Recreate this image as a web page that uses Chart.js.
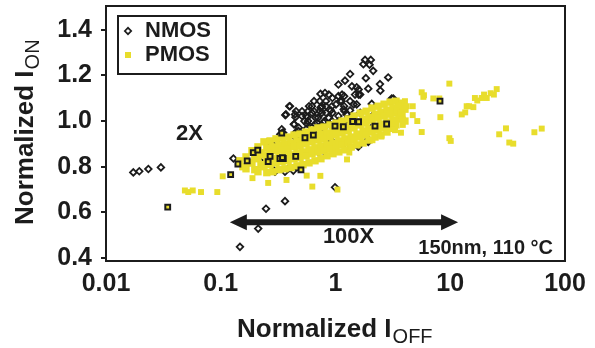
<!DOCTYPE html>
<html>
<head>
<meta charset="utf-8">
<script src="https://cdn.jsdelivr.net/npm/chart.js@4.4.0/dist/chart.umd.min.js"></script>
<style>
body { margin: 0; background: #fff; }
</style>
</head>
<body>
<canvas id="myChart" width="595" height="348"></canvas>
<script>
// axis ticks
const xTicks = [0.01, 0.1, 1, 10, 100];
const xTickLabels = ["0.01", "0.1", "1", "10", "100"];
const yTicks = [0.4, 0.6, 0.8, 1.0, 1.2, 1.4];
const yTickLabels = ["0.4", "0.6", "0.8", "1.0", "1.2", "1.4"];

// [normalized Ioff, normalized Ion]
const nmos = [
  [0.0173, 0.775], [0.0195, 0.780], [0.0234, 0.790], [0.0301, 0.797],
  [0.147, 0.449], [0.212, 0.529], [0.248, 0.616], [0.363, 0.649], [0.99, 0.710],
  [1.81, 1.268], [2.03, 1.268], [1.75, 1.249], [1.98, 1.247], [1.34, 1.206], [2.88, 1.191],
  [1.84, 1.188], [2.13, 1.220], [2.44, 1.162], [2.46, 1.133], [1.93, 1.142], [1.53, 1.148],
  [1.21, 1.177], [1.06, 1.160], [1.48, 1.116], [1.64, 1.116], [2.07, 1.075], [3.09, 1.099],
  [0.94, 1.101], [0.875, 1.116], [0.74, 1.119], [1.01, 1.073], [1.13, 1.087], [1.53, 1.073],
  [0.76, 1.065], [0.826, 1.036], [0.91, 1.047], [2.13, 1.026], [1.64, 1.036], [1.25, 1.029],
  [1.34, 1.047], [0.80, 1.000],
  [0.81, 1.123], [0.624, 1.065], [0.74, 1.058], [0.401, 1.065], [0.365, 1.026], [0.444, 1.029],
  [0.555, 1.022], [0.437, 0.986], [0.704, 1.014], [0.663, 0.986], [0.565, 0.988], [0.340, 0.964],
  [0.253, 0.906], [0.345, 0.949], [0.370, 1.029], [0.396, 1.065], [0.434, 0.986], [0.448, 1.017],
  [0.478, 0.971], [0.588, 1.065], [0.570, 1.017], [0.624, 1.036], [0.624, 0.971], [0.755, 1.061],
  [0.76, 1.036], [0.79, 0.993], [0.873, 1.014], [0.94, 1.036], [1.10, 1.087], [1.03, 0.971],
  [1.14, 1.116], [1.20, 1.043], [1.39, 1.152], [1.44, 1.073], [1.59, 1.116], [0.540, 0.942],
  [0.40, 0.899], [0.30, 0.913], [0.45, 0.927], [0.873, 0.964], [0.535, 1.000], [0.69, 0.993],
  [0.71, 0.957], [0.58, 0.935], [0.49, 0.920], [0.378, 0.891], [1.26, 1.007], [1.14, 0.993],
  [0.895, 0.986], [0.76, 0.971], [0.67, 1.014], [0.511, 1.043], [0.447, 0.949], [1.59, 1.138],
  [1.18, 1.051],
  [0.474, 0.957], [0.56, 0.967], [0.259, 0.906], [0.363, 0.778], [0.429, 0.783], [0.474, 0.797],
  [0.39, 0.793], [0.129, 0.836], [0.235, 0.840], [0.297, 0.778],
  [1.58, 0.888], [1.93, 0.909], [1.25, 0.894], [0.927, 0.913], [0.76, 0.848], [2.07, 0.971],
  [0.33, 0.942], [0.35, 0.949], [1.93, 0.920], [0.291, 0.783], [3.19, 1.099],
  [0.453, 1.043], [0.511, 1.022], [0.576, 1.000], [0.65, 1.043], [0.73, 1.087], [0.826, 1.065],
  [0.93, 1.000], [1.06, 1.022], [1.19, 1.065], [1.34, 1.087], [0.65, 1.087], [0.73, 1.043],
  [0.93, 1.065], [1.06, 1.109], [1.19, 1.109], [0.576, 1.043], [0.826, 1.087], [1.06, 1.000]
];

// PMOS: dense core of the distribution
const pmosCore = [
  [0.147, 0.826], [0.156, 0.800],
  [0.166, 0.843], [0.176, 0.817], [0.166, 0.791],
  [0.187, 0.870], [0.198, 0.843], [0.187, 0.817], [0.198, 0.787],
  [0.211, 0.887], [0.224, 0.861], [0.211, 0.835], [0.224, 0.809], [0.211, 0.778],
  [0.238, 0.909], [0.252, 0.883], [0.238, 0.852], [0.252, 0.826], [0.238, 0.800], [0.252, 0.774],
  [0.269, 0.913], [0.285, 0.887], [0.269, 0.861], [0.285, 0.835], [0.269, 0.809], [0.285, 0.778],
  [0.303, 0.922], [0.322, 0.896], [0.303, 0.870], [0.322, 0.843], [0.303, 0.817], [0.322, 0.787],
  [0.342, 0.926], [0.363, 0.900], [0.342, 0.874], [0.363, 0.848], [0.342, 0.822], [0.363, 0.791],
  [0.386, 0.930], [0.410, 0.904], [0.386, 0.878], [0.410, 0.852], [0.386, 0.826], [0.410, 0.796],
  [0.435, 0.939], [0.462, 0.913], [0.435, 0.887], [0.462, 0.861], [0.435, 0.835], [0.462, 0.804],
  [0.491, 0.943], [0.521, 0.917], [0.491, 0.891], [0.521, 0.865], [0.491, 0.839], [0.521, 0.809],
  [0.554, 0.952], [0.588, 0.926], [0.554, 0.900], [0.588, 0.874], [0.554, 0.848], [0.588, 0.817],
  [0.624, 0.961], [0.663, 0.935], [0.624, 0.909], [0.663, 0.883], [0.624, 0.857], [0.663, 0.826],
  [0.704, 0.970], [0.747, 0.943], [0.704, 0.917], [0.747, 0.891], [0.704, 0.865], [0.747, 0.835],
  [0.794, 0.974], [0.843, 0.948], [0.794, 0.922], [0.843, 0.896], [0.794, 0.870], [0.843, 0.848],
  [0.896, 0.983], [0.951, 0.957], [0.896, 0.930], [0.951, 0.904], [0.896, 0.878], [0.951, 0.857],
  [1.01, 0.991], [1.07, 0.965], [1.01, 0.939], [1.07, 0.913], [1.01, 0.887], [1.07, 0.865],
  [1.14, 1.000], [1.21, 0.974], [1.14, 0.948], [1.21, 0.922], [1.14, 0.896], [1.21, 0.874],
  [1.29, 1.009], [1.37, 0.983], [1.29, 0.957], [1.37, 0.930], [1.29, 0.904], [1.37, 0.887],
  [1.45, 1.022], [1.54, 0.996], [1.45, 0.970], [1.54, 0.943], [1.45, 0.917], [1.54, 0.896],
  [1.64, 1.035], [1.74, 1.009], [1.64, 0.983], [1.74, 0.957], [1.64, 0.930], [1.74, 0.904],
  [1.85, 1.043], [1.96, 1.017], [1.85, 0.991], [1.96, 0.965], [1.85, 0.939], [1.96, 0.917],
  [2.08, 1.057], [2.21, 1.030], [2.08, 1.004], [2.21, 0.978], [2.08, 0.952], [2.21, 0.930],
  [2.35, 1.065], [2.49, 1.039], [2.35, 1.013], [2.49, 0.987], [2.35, 0.961], [2.49, 0.939],
  [2.65, 1.074], [2.81, 1.048], [2.65, 1.022], [2.81, 0.996], [2.65, 0.970], [2.81, 0.952],
  [2.99, 1.083], [3.17, 1.057], [2.99, 1.030], [3.17, 1.004], [2.99, 0.978],
  [3.37, 1.087], [3.58, 1.061], [3.37, 1.035], [3.58, 1.009], [3.37, 0.983],
  [3.80, 1.078], [4.03, 1.052], [3.80, 1.026], [4.03, 1.000]
];

// PMOS: scattered devices around the core
const pmos = [
  // left tail
  [0.0487, 0.696], [0.0521, 0.689], [0.0570, 0.696], [0.0673, 0.689], [0.0933, 0.689],
  [0.104, 0.758], [0.189, 0.750], [0.259, 0.729], [0.374, 0.742], [0.628, 0.713],
  [0.738, 0.760], [0.561, 0.761], [1.04, 0.700],
  // right edge of band
  [4.03, 1.087], [3.77, 1.080], [3.52, 1.070], [4.71, 1.065], [3.41, 1.047], [4.71, 1.026],
  [5.16, 1.000], [3.86, 1.007], [3.86, 0.983], [3.30, 0.960], [3.72, 0.949], [2.51, 0.932],
  [2.10, 0.916], [1.38, 0.884], [1.32, 0.862], [1.26, 0.832], [3.17, 0.965], [4.18, 1.065],
  [3.65, 1.036],
  // high leakage tail
  [9.82, 1.164], [5.64, 1.126], [5.90, 1.113], [5.83, 1.106], [7.12, 1.099], [8.03, 1.099],
  [8.20, 1.017], [5.64, 0.952], [9.82, 0.925], [10.1, 0.913], [12.6, 1.029], [13.5, 1.038],
  [13.9, 1.065], [14.6, 1.065], [15.9, 1.061], [16.4, 1.101], [17.2, 1.090], [18.8, 1.101],
  [19.7, 1.116], [20.8, 1.101], [22.5, 1.122], [24.0, 1.116], [25.4, 1.140], [26.7, 0.942],
  [30.6, 0.968], [32.7, 0.906], [35.4, 0.901], [54.1, 0.951], [62.7, 0.967]
];

// PMOS points printed with a dark outline
const pmosOutlined = [
  [0.0345, 0.623], [0.122, 0.765], [0.141, 0.812], [0.170, 0.826], [0.192, 0.862], [0.210, 0.873],
  [0.259, 0.822], [0.269, 0.845], [0.328, 0.836], [0.351, 0.836], [0.450, 0.845], [0.500, 0.786],
  [0.340, 0.947], [0.542, 0.927], [0.641, 0.938], [8.14, 1.087], [1.41, 0.998], [1.59, 0.997],
  [1.17, 0.975], [0.99, 0.978], [2.21, 0.978], [2.79, 0.987], [0.345, 0.840]
];

const INK = "#1c1c1c";
const YELLOW = "#e8dd2c";
const FONT = "'Liberation Sans', Arial, Helvetica, sans-serif";

function toXY(list) {
  return list.map(p => ({ x: p[0], y: p[1] }));
}

function diamond(ctx, x, y, r) {
  ctx.beginPath();
  ctx.moveTo(x - r, y);
  ctx.lineTo(x, y - r);
  ctx.lineTo(x + r, y);
  ctx.lineTo(x, y + r);
  ctx.closePath();
}

function drawArrow(ctx, x1, x2, y) {
  const head = 17, half = 8, shaft = 3;
  ctx.beginPath();
  ctx.moveTo(x1, y);
  ctx.lineTo(x1 + head, y - half);
  ctx.lineTo(x1 + head, y - shaft);
  ctx.lineTo(x2 - head, y - shaft);
  ctx.lineTo(x2 - head, y - half);
  ctx.lineTo(x2, y);
  ctx.lineTo(x2 - head, y + half);
  ctx.lineTo(x2 - head, y + shaft);
  ctx.lineTo(x1 + head, y + shaft);
  ctx.lineTo(x1 + head, y + half);
  ctx.closePath();
  ctx.fill();
}

function drawTitle(ctx, x, y, main, sub, rotate) {
  ctx.save();
  ctx.translate(x, y);
  if (rotate) ctx.rotate(-Math.PI / 2);
  ctx.fillStyle = INK;
  ctx.textAlign = "left";
  ctx.textBaseline = "alphabetic";
  ctx.font = "bold 26px " + FONT;
  ctx.fillText(main, 0, 0);
  const w = ctx.measureText(main).width;
  ctx.font = "20px " + FONT;
  ctx.fillText(sub, w + 1, 6);
  ctx.restore();
}

const extras = {
  id: "extras",
  afterDraw(chart) {
    const ctx = chart.ctx;
    const a = chart.chartArea;
    const sx = chart.scales.x, sy = chart.scales.y;
    ctx.save();

    // plot frame
    ctx.strokeStyle = INK;
    ctx.lineWidth = 2;
    ctx.strokeRect(a.left, a.top, a.right - a.left, a.bottom - a.top);

    // legend
    const lx = a.left + 12, ly = a.top + 10;
    ctx.strokeRect(lx, ly, 108, 58);
    ctx.lineWidth = 1.7;
    diamond(ctx, lx + 10, ly + 15, 3.2);
    ctx.stroke();
    ctx.fillStyle = YELLOW;
    ctx.fillRect(lx + 7, ly + 36, 6, 6);
    ctx.fillStyle = INK;
    ctx.font = "bold 22px " + FONT;
    ctx.textAlign = "left";
    ctx.textBaseline = "middle";
    ctx.fillText("NMOS", lx + 27, ly + 15);
    ctx.fillText("PMOS", lx + 27, ly + 39);

    // annotations
    ctx.textAlign = "center";
    ctx.font = "bold 22px " + FONT;
    ctx.fillText("2X", sx.getPixelForValue(0.0535), sy.getPixelForValue(0.943));
    ctx.fillText("100X", sx.getPixelForValue(1.30), sy.getPixelForValue(0.491));
    drawArrow(ctx, sx.getPixelForValue(0.12), sx.getPixelForValue(11.7), sy.getPixelForValue(0.557));
    ctx.textAlign = "right";
    ctx.font = "bold 20px " + FONT;
    ctx.fillText("150nm, 110 \u00b0C", a.right - 12, a.bottom - 13);

    // axis titles
    drawTitle(ctx, 237, 337, "Normalized I", "OFF", false);
    drawTitle(ctx, 33, 225, "Normalized I", "ON", true);
    ctx.restore();
  }
};

const CHART = document.getElementById("myChart");
const myChart = new Chart(CHART, {
  type: "scatter",
  data: {
    datasets: [
      {
        label: "NMOS",
        data: toXY(nmos),
        pointStyle: "rectRot",
        pointRadius: 3.3,
        pointBorderWidth: 1.8,
        pointBorderColor: INK,
        pointBackgroundColor: "rgba(0,0,0,0)",
        order: 4
      },
      {
        label: "PMOS",
        data: toXY(pmosCore),
        pointStyle: "rect",
        pointRadius: 5.2,
        pointBorderWidth: 0,
        pointBackgroundColor: YELLOW,
        order: 3
      },
      {
        label: "PMOS scattered",
        data: toXY(pmos),
        pointStyle: "rect",
        pointRadius: 4.2,
        pointBorderWidth: 0,
        pointBackgroundColor: YELLOW,
        order: 2
      },
      {
        label: "PMOS outlined",
        data: toXY(pmosOutlined),
        pointStyle: "rect",
        pointRadius: 3.4,
        pointBorderWidth: 2,
        pointBorderColor: INK,
        pointBackgroundColor: YELLOW,
        order: 1
      }
    ]
  },
  options: {
    responsive: false,
    animation: false,
    events: [],
    layout: { padding: { left: 0, top: 4, right: 30, bottom: 0 } },
    plugins: { legend: { display: false }, tooltip: { enabled: false } },
    scales: {
      x: {
        type: "logarithmic",
        min: 0.01,
        max: 100,
        border: { display: false },
        grid: { display: false, drawTicks: false },
        afterBuildTicks: s => { s.ticks = xTicks.map(v => ({ value: v })); },
        afterFit: s => { s.height = 87; s.paddingLeft = 0; s.paddingRight = 0; },
        ticks: {
          autoSkip: false,
          maxRotation: 0,
          padding: 8,
          color: INK,
          font: { family: FONT, size: 25, weight: "bold" },
          callback: (v, i) => xTickLabels[i]
        }
      },
      y: {
        min: 0.387,
        max: 1.504,
        border: { display: false },
        grid: { drawOnChartArea: false, drawTicks: true, tickLength: 5, color: INK, lineWidth: 2 },
        afterBuildTicks: s => { s.ticks = yTicks.map(v => ({ value: v })); },
        afterFit: s => { s.width = 106; s.paddingTop = 0; s.paddingBottom = 0; },
        ticks: {
          padding: 9,
          color: INK,
          font: { family: FONT, size: 25, weight: "bold" },
          callback: (v, i) => yTickLabels[i]
        }
      }
    }
  },
  plugins: [extras]
});
</script>
</body>
</html>
